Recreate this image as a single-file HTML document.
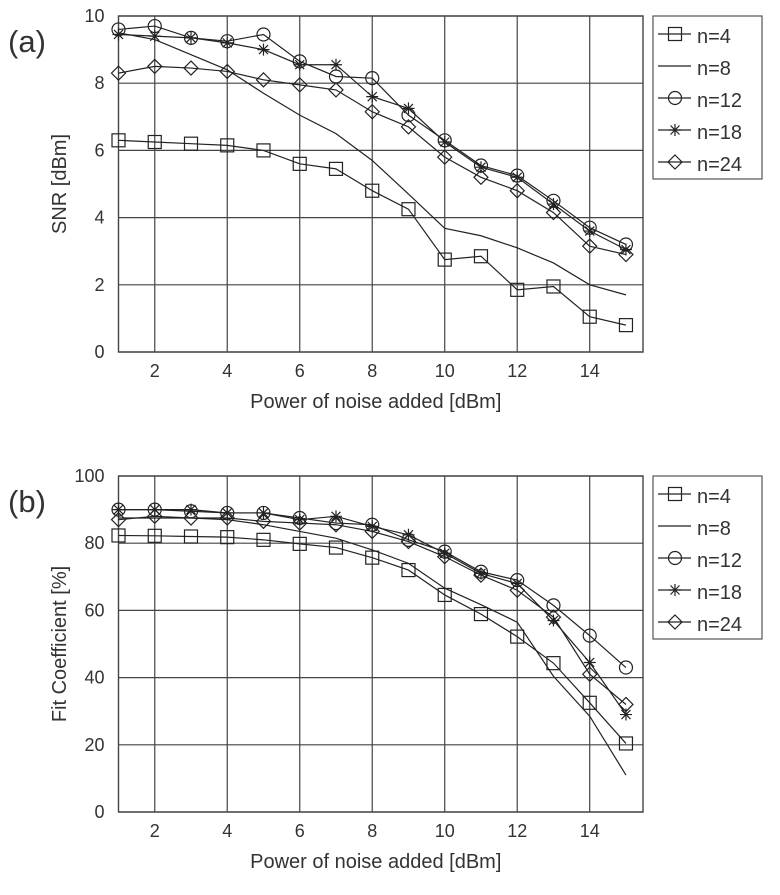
<!DOCTYPE html>
<html><head><meta charset="utf-8"><style>
body{margin:0;background:#fff;}
svg text{font-family:"Liberation Sans",sans-serif;fill:#333;}
</style></head><body>
<svg id="c" width="780" height="890" xmlns="http://www.w3.org/2000/svg"></svg>
<script>
const xs=[1,2,3,4,5,6,7,8,9,10,11,12,13,14,15];
const xTicks=[2,4,6,8,10,12,14];
const snrTicks=[0,2,4,6,8,10];
const fitTicks=[0,20,40,60,80,100];
const snrN4=[6.3,6.25,6.2,6.15,6.0,5.6,5.45,4.8,4.25,2.75,2.85,1.85,1.95,1.05,0.8];
const snrN8=[9.5,9.3,8.85,8.4,7.7,7.05,6.5,5.7,4.7,3.68,3.46,3.1,2.65,2.0,1.7];
const snrN12=[9.6,9.7,9.35,9.25,9.45,8.65,8.2,8.15,7.05,6.3,5.55,5.25,4.5,3.7,3.2];
const snrN18=[9.45,9.4,9.35,9.2,9.0,8.55,8.55,7.6,7.25,6.25,5.5,5.2,4.4,3.6,3.05];
const snrN24=[8.3,8.5,8.45,8.35,8.1,7.95,7.8,7.15,6.7,5.8,5.2,4.8,4.15,3.15,2.9];
const fitN4=[82.3,82.2,82,81.8,81,79.8,78.7,75.7,72,64.6,58.9,52.2,44.3,32.5,20.4];
const fitN8=[87.5,87.5,87.5,87,85.5,83.5,81.5,78,74,66.6,61.7,56.5,40.4,28.5,11];
const fitN12=[90,90,89.5,89,89,87.5,86,85.5,81,77.5,71.5,69,61.5,52.5,43];
const fitN18=[90,90,90,89,89,87,88,85,82.5,77,71,68,57,44.5,29];
const fitN24=[87,88,87.5,87.5,86.5,86,85.5,83.5,80.5,76,70.5,66,58,41,32];
const labels=['n=4','n=8','n=12','n=18','n=24'];
const markers=['square','none','circle','star','diamond'];

const NS='http://www.w3.org/2000/svg';
const svg=document.getElementById('c');
function mk(t,a,p){const e=document.createElementNS(NS,t);for(const k in a)e.setAttribute(k,a[k]);(p||svg).appendChild(e);return e;}
function marker(g,type,x,y){
  const st={fill:'none',stroke:'#222','stroke-width':1.2};
  let e;
  if(type==='square'){e=mk('rect',Object.assign({x:x-6.5,y:y-6.5,width:13,height:13},st),g);}
  else if(type==='circle'){e=mk('circle',Object.assign({cx:x,cy:y,r:6.5},st),g);}
  else if(type==='diamond'){e=mk('path',Object.assign({d:`M${x} ${y-7}L${x+7} ${y}L${x} ${y+7}L${x-7} ${y}Z`},st),g);}
  else if(type==='star'){e=mk('path',Object.assign({d:`M${x-6} ${y}H${x+6}M${x} ${y-6}V${y+6}M${x-4.5} ${y-4.5}L${x+4.5} ${y+4.5}M${x-4.5} ${y+4.5}L${x+4.5} ${y-4.5}`},st),g);}
  if(e){}
}
function chart(o){
  const L=118.5,R=643,T=o.top,B=o.top+336;
  const X=v=>L+(v-1)/(15.47-1)*(R-L);
  const Y=v=>B-(v-o.ymin)/(o.ymax-o.ymin)*(B-T);
  const g=mk('g',{});
  
  
  xTicks.forEach(t=>{
    const l=mk('line',{x1:X(t),x2:X(t),y1:T,y2:B,stroke:'#444','stroke-width':1.2},g);
    
    const tx=mk('text',{x:X(t),y:B+25,'font-size':18,'text-anchor':'middle'},g);tx.textContent=t;
    
  });
  o.ticks.forEach(t=>{
    const l=mk('line',{x1:L,x2:R,y1:Y(t),y2:Y(t),stroke:'#444','stroke-width':1.2},g);
    
    const tx=mk('text',{x:L-14,y:Y(t)+6,'font-size':18,'text-anchor':'end'},g);tx.textContent=t;
    
  });
  const fr=mk('rect',{x:L,y:T,width:R-L,height:B-T,fill:'none',stroke:'#444','stroke-width':1.4},g);
  
  o.series.forEach((s,i)=>{
    const p=mk('polyline',{points:xs.map((x,j)=>X(x)+','+Y(s[j])).join(' '),fill:'none',stroke:'#222','stroke-width':1.2},g);
    
    xs.forEach((x,j)=>marker(g,markers[i],X(x),Y(s[j])));
  });
  const xt=mk('text',{x:(L+R)/2-5,y:B+56,'font-size':20,'text-anchor':'middle'},g);xt.textContent='Power of noise added [dBm]';
  
  const yt=mk('text',{x:0,y:0,'font-size':20,'text-anchor':'middle',transform:`translate(66,${(T+B)/2}) rotate(-90)`},g);yt.textContent=o.ytitle;
  
  const pl=mk('text',{x:8,y:T+36,'font-size':31},g);pl.textContent=o.panel;
  
  const lg=mk('g',{},g);
  
  const ly=o.top;
  mk('rect',{x:653,y:ly,width:109,height:163,fill:'#fff',stroke:'#555','stroke-width':1.2},lg);
  labels.forEach((lab,i)=>{
    const yy=ly+18+i*32;
    const e=mk('g',{},lg);
    
    mk('line',{x1:658,x2:691,y1:yy,y2:yy,stroke:'#222','stroke-width':1.2},e);
    marker(e,markers[i],675,yy);
    const t=mk('text',{x:697,y:yy+9,'font-size':20},e);t.textContent=lab;
  });
}
chart({name:'snr-chart',top:16,ymin:0,ymax:10,ticks:snrTicks,series:[snrN4,snrN8,snrN12,snrN18,snrN24],ytitle:'SNR [dBm]',panel:'(a)'});
chart({name:'fit-chart',top:476,ymin:0,ymax:100,ticks:fitTicks,series:[fitN4,fitN8,fitN12,fitN18,fitN24],ytitle:'Fit Coefficient [%]',panel:'(b)'});
</script>
</body></html>
